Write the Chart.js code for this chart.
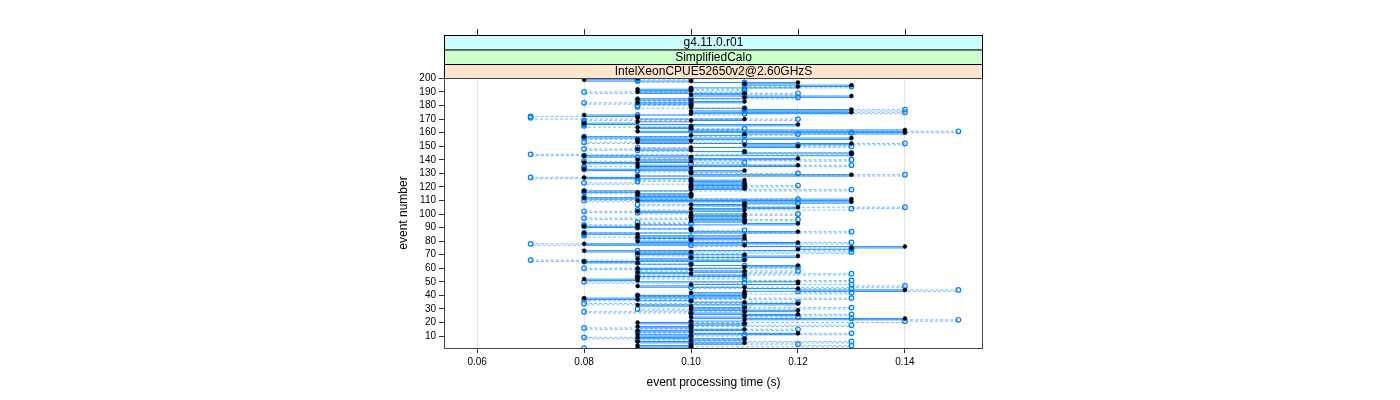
<!DOCTYPE html>
<html>
<head>
<meta charset="utf-8">
<script src="https://cdn.jsdelivr.net/npm/chart.js@4/dist/chart.umd.min.js"></script>
<style>
  html, body { margin: 0; padding: 0; background: #fff; }
  #wrap { width: 1400px; height: 400px; }
</style>
</head>
<body>
<div id="wrap"><canvas id="plot" width="1400" height="400"></canvas></div>
<script>
// event processing time per event, in hundredths of a second, event 1 first
var blackTimes = [
  9, 10, 9, 10, 11, 9, 10, 11, 9, 10,
  9, 12, 10, 9, 11, 10, 9, 10, 11, 9,
  10, 11, 14, 10, 11, 12, 10, 11, 12, 10,
  11, 10, 9, 12, 11, 10, 9, 8, 11, 9,
  11, 10, 11, 14, 12, 11, 9, 10, 12, 12,
  9, 8, 9, 9, 11, 10, 9, 11, 10, 9,
  11, 12, 10, 9, 8, 11, 9, 10, 12, 11,
  9, 10, 8, 12, 13, 14, 11, 8, 12, 9,
  10, 11, 9, 11, 9, 8, 12, 10, 10, 9,
  8, 9, 12, 11, 10, 11, 10, 11, 10, 11,
  10, 9, 11, 10, 12, 11, 10, 11, 13, 9,
  13, 8, 10, 9, 10, 9, 8, 10, 11, 10,
  11, 10, 11, 10, 11, 10, 8, 9, 13, 10,
  10, 11, 8, 10, 9, 12, 9, 8, 10, 9,
  12, 10, 8, 13, 13, 11, 10, 9, 10, 12,
  11, 13, 9, 10, 9, 13, 8, 10, 11, 14,
  9, 14, 10, 9, 10, 12, 8, 9, 10, 11,
  9, 9, 8, 10, 13, 10, 13, 11, 10, 10,
  10, 9, 11, 10, 9, 11, 13, 10, 11, 9,
  10, 9, 10, 12, 13, 11, 12, 10, 8, 9
];
var blueTimes = [
  8, 10, 13, 12, 10, 13, 9, 11, 8, 10,
  11, 13, 9, 10, 12, 8, 10, 13, 11, 10,
  14, 15, 13, 12, 11, 13, 10, 8, 11, 9,
  13, 11, 11, 8, 12, 10, 8, 13, 10, 9,
  11, 13, 12, 15, 13, 10, 14, 13, 11, 8,
  13, 11, 9, 11, 9, 13, 11, 12, 9, 8,
  12, 11, 10, 9, 8, 7, 11, 10, 11, 9,
  10, 13, 9, 13, 13, 12, 10, 7, 13, 11,
  10, 9, 10, 8, 8, 8, 13, 11, 10, 9,
  8, 8, 10, 9, 11, 12, 8, 10, 11, 12,
  9, 8, 9, 13, 14, 11, 9, 12, 11, 8,
  12, 8, 9, 10, 9, 8, 8, 13, 11, 10,
  12, 11, 8, 9, 10, 9, 7, 9, 14, 12,
  10, 9, 8, 8, 8, 13, 10, 11, 8, 13,
  10, 9, 8, 7, 13, 11, 9, 8, 9, 13,
  12, 14, 8, 11, 9, 8, 8, 11, 12, 13,
  15, 10, 11, 10, 8, 8, 8, 8, 8, 12,
  7, 7, 9, 11, 14, 11, 14, 11, 9, 9,
  10, 8, 10, 9, 10, 12, 11, 11, 12, 8,
  11, 10, 11, 13, 11, 11, 11, 9, 9, 10
];
var xTicks = [0.06, 0.08, 0.10, 0.12, 0.14];
var yTicks = [10, 20, 30, 40, 50, 60, 70, 80, 90, 100, 110, 120, 130, 140, 150, 160, 170, 180, 190, 200];
var stripLabels = ['g4.11.0.r01', 'SimplifiedCalo', 'IntelXeonCPUE52650v2@2.60GHzS'];
var stripColors = ['#ccffff', '#ccffcc', '#ffe5cc'];

// points for the markers
function toPoints(times) {
    return times.map(function (t, i) { return { x: t / 100, y: i + 1 }; });
}

// horizontal segments from one event's time to the next one's, broken by gaps
function toSegments(times) {
    var pts = [];
    for (var i = 0; i < times.length - 1; i++) {
        if (times[i] === times[i + 1]) continue;
        pts.push({ x: times[i] / 100, y: i + 1 });
        pts.push({ x: times[i + 1] / 100, y: i + 1 });
        pts.push({ x: null, y: null });
    }
    return pts;
}

// strips on top, top ticks and the panel box
var latticePlugin = {
    id: 'lattice',
    afterDraw: function (chart) {
        var ctx = chart.ctx;
        var a = chart.chartArea;
        var xs = chart.scales.x;
        var tops = [35, 49.5, 64, a.top];
        ctx.save();
        for (var i = 0; i < 3; i++) {
            ctx.fillStyle = stripColors[i];
            ctx.fillRect(a.left, tops[i], a.right - a.left, tops[i + 1] - tops[i]);
            ctx.strokeStyle = '#000';
            ctx.lineWidth = 1;
            ctx.strokeRect(a.left + 0.5, tops[i] + 0.5, a.right - a.left - 1, tops[i + 1] - tops[i]);
            ctx.fillStyle = '#000';
            ctx.font = '12px "Liberation Sans", Arial, sans-serif';
            ctx.textAlign = 'center';
            ctx.textBaseline = 'middle';
            ctx.fillText(stripLabels[i], (a.left + a.right) / 2, (tops[i] + tops[i + 1]) / 2 + 0.5);
        }
        ctx.strokeStyle = '#333';
        ctx.beginPath();
        xTicks.forEach(function (v) {
            var px = Math.round(xs.getPixelForValue(v)) + 0.5;
            ctx.moveTo(px, 29);
            ctx.lineTo(px, 35);
        });
        ctx.stroke();
        ctx.strokeStyle = '#444';
        ctx.strokeRect(a.left + 0.5, a.top + 0.5, a.right - a.left - 1, a.bottom - a.top);
        ctx.restore();
    }
};

var ctx = document.getElementById('plot').getContext('2d');
var chart = new Chart(ctx, {
    type: 'scatter',
    data: {
        datasets: [{
            label: 'black',
            data: toPoints(blackTimes),
            pointRadius: 2,
            pointBackgroundColor: '#000',
            pointBorderColor: '#000',
            pointBorderWidth: 0.5,
            order: 0
        }, {
            label: 'blue',
            data: toPoints(blueTimes),
            pointRadius: 2.3,
            pointBackgroundColor: 'rgba(255,255,255,0)',
            pointBorderColor: '#0080ff',
            pointBorderWidth: 1.2,
            order: 1
        }, {
            label: 'black run',
            data: toSegments(blackTimes),
            showLine: true,
            spanGaps: false,
            pointRadius: 0,
            borderColor: 'rgba(0,128,255,0.85)',
            borderWidth: 1,
            order: 2
        }, {
            label: 'blue run',
            data: toSegments(blueTimes),
            showLine: true,
            spanGaps: false,
            pointRadius: 0,
            borderColor: 'rgba(0,128,255,0.5)',
            borderWidth: 1,
            borderDash: [3, 2],
            order: 3
        }]
    },
    options: {
        responsive: false,
        animation: false,
        devicePixelRatio: 1,
        layout: { padding: { left: 380, right: 417, top: 78, bottom: 0 } },
        plugins: {
            legend: { display: false },
            tooltip: { enabled: false }
        },
        scales: {
            x: {
                type: 'linear',
                min: 0.0538,
                max: 0.1546,
                afterBuildTicks: function (s) { s.ticks = xTicks.map(function (v) { return { value: v }; }); },
                afterFit: function (s) { s.height = 52; },
                ticks: {
                    color: '#000',
                    font: { family: '"Liberation Sans", Arial, sans-serif', size: 10 },
                    padding: 3,
                    maxRotation: 0,
                    autoSkip: false,
                    callback: function (v) { return v.toFixed(2); }
                },
                grid: { color: '#e6e6e6', tickColor: '#333', tickLength: 5 },
                border: { display: false },
                title: {
                    display: true,
                    text: 'event processing time (s)',
                    color: '#000',
                    font: { family: '"Liberation Sans", Arial, sans-serif', size: 12 },
                    padding: { top: 4, bottom: 10 }
                }
            },
            y: {
                type: 'linear',
                min: 1.2,
                max: 200.3,
                afterBuildTicks: function (s) { s.ticks = yTicks.map(function (v) { return { value: v }; }); },
                afterFit: function (s) { s.width = 64; },
                ticks: {
                    color: '#000',
                    font: { family: '"Liberation Sans", Arial, sans-serif', size: 10 },
                    padding: 3,
                    autoSkip: false
                },
                grid: { drawOnChartArea: false, tickColor: '#333', tickLength: 5 },
                border: { display: false },
                title: {
                    display: true,
                    text: 'event number',
                    color: '#000',
                    font: { family: '"Liberation Sans", Arial, sans-serif', size: 12 },
                    padding: { top: 16, bottom: 0 }
                }
            }
        }
    },
    plugins: [latticePlugin]
});
</script>
</body>
</html>
